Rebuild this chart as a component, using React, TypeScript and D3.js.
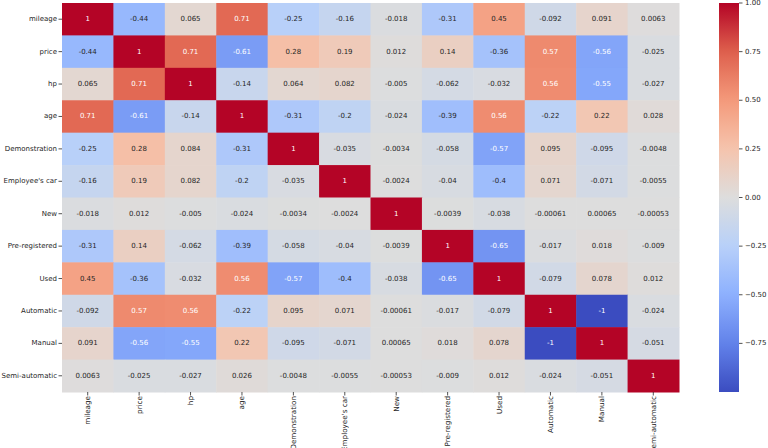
import React from 'react';
import * as d3 from 'd3';

// feature names (rows and columns)
const features = [
  'mileage', 'price', 'hp', 'age', 'Demonstration', "Employee's car",
  'New', 'Pre-registered', 'Used', 'Automatic', 'Manual', 'Semi-automatic',
];

// correlation rows
const mileage = [1, -0.44, 0.065, 0.71, -0.25, -0.16, -0.018, -0.31, 0.45, -0.092, 0.091, 0.0063];
const price = [-0.44, 1, 0.71, -0.61, 0.28, 0.19, 0.012, 0.14, -0.36, 0.57, -0.56, -0.025];
const hp = [0.065, 0.71, 1, -0.14, 0.064, 0.082, -0.005, -0.062, -0.032, 0.56, -0.55, -0.027];
const age = [0.71, -0.61, -0.14, 1, -0.31, -0.2, -0.024, -0.39, 0.56, -0.22, 0.22, 0.028];
const demonstration = [-0.25, 0.28, 0.084, -0.31, 1, -0.035, -0.0034, -0.058, -0.57, 0.095, -0.095, -0.0048];
const employeesCar = [-0.16, 0.19, 0.082, -0.2, -0.035, 1, -0.0024, -0.04, -0.4, 0.071, -0.071, -0.0055];
const newCar = [-0.018, 0.012, -0.005, -0.024, -0.0034, -0.0024, 1, -0.0039, -0.038, -0.00061, 0.00065, -0.00053];
const preRegistered = [-0.31, 0.14, -0.062, -0.39, -0.058, -0.04, -0.0039, 1, -0.65, -0.017, 0.018, -0.009];
const used = [0.45, -0.36, -0.032, 0.56, -0.57, -0.4, -0.038, -0.65, 1, -0.079, 0.078, 0.012];
const automatic = [-0.092, 0.57, 0.56, -0.22, 0.095, 0.071, -0.00061, -0.017, -0.079, 1, -1, -0.024];
const manual = [0.091, -0.56, -0.55, 0.22, -0.095, -0.071, 0.00065, 0.018, 0.078, -1, 1, -0.051];
const semiAutomatic = [0.0063, -0.025, -0.027, 0.026, -0.0048, -0.0055, -0.00053, -0.009, 0.012, -0.024, -0.051, 1];

const matrix = [
  mileage, price, hp, age, demonstration, employeesCar,
  newCar, preRegistered, used, automatic, manual, semiAutomatic,
];

const colorbarTicks = [-0.75, -0.5, -0.25, 0, 0.25, 0.5, 0.75, 1];

// coolwarm colormap control points
const coolwarmStops = [
  '#3b4cc0', '#6282ea', '#8db0fe', '#b8d0f9', '#dddddd',
  '#f5c4ad', '#f49a7b', '#de604d', '#b40426',
];

const W = 768;
const H = 448;
const left = 62;
const right = 679;
const top = 3;
const bottom = 392;
const cbX = 719;
const cbW = 20;
const ink = '#262626';

const color = d3
  .scaleLinear<string>()
  .domain(d3.range(coolwarmStops.length).map((i) => -1 + (2 * i) / (coolwarmStops.length - 1)))
  .range(coolwarmStops)
  .interpolate(d3.interpolateRgb)
  .clamp(true);

const fmt = (v: number) => d3.format('.2~g')(v).replace('\u2212', '-');

// seaborn picks white text on dark cells
const textColor = (c: string) => {
  const rgb = d3.rgb(c);
  const lin = (u: number) => {
    const s = u / 255;
    return s <= 0.03928 ? s / 12.92 : Math.pow((s + 0.055) / 1.055, 2.4);
  };
  const lum = 0.2126 * lin(rgb.r) + 0.7152 * lin(rgb.g) + 0.0722 * lin(rgb.b);
  return lum > 0.408 ? ink : '#ffffff';
};

const App: React.FC = () => {
  const x = d3.scaleBand().domain(features).range([left, right]);
  const y = d3.scaleBand().domain(features).range([top, bottom]);
  const cbY = d3.scaleLinear().domain([-1, 1]).range([bottom, top]);
  const gradStops = d3.range(0, 1.0001, 0.02);

  return (
    <svg
      width={W}
      height={H}
      style={{ position: 'absolute', left: 0, top: 0, background: '#fff' }}
      fontFamily="'DejaVu Sans', sans-serif"
    >
      <defs>
        <linearGradient id="cb" x1="0" y1="1" x2="0" y2="0">
          {gradStops.map((t) => (
            <stop key={t} offset={t} stopColor={color(-1 + 2 * t)} />
          ))}
        </linearGradient>
      </defs>

      {/* cells */}
      {matrix.map((row, i) =>
        row.map((v, j) => {
          const c = color(v);
          return (
            <g key={`${i}-${j}`}>
              <rect
                x={x(features[j])}
                y={y(features[i])}
                width={x.bandwidth() + 0.5}
                height={y.bandwidth() + 0.5}
                fill={c}
              />
              <text
                x={(x(features[j]) || 0) + x.bandwidth() / 2}
                y={(y(features[i]) || 0) + y.bandwidth() / 2}
                textAnchor="middle"
                dominantBaseline="central"
                fontSize={7}
                fill={textColor(c)}
              >
                {fmt(v)}
              </text>
            </g>
          );
        })
      )}

      {/* y axis */}
      {features.map((f) => {
        const cy = (y(f) || 0) + y.bandwidth() / 2;
        return (
          <g key={`y-${f}`}>
            <line x1={left - 3.5} x2={left} y1={cy} y2={cy} stroke={ink} strokeWidth={0.8} />
            <text x={left - 5} y={cy} textAnchor="end" dominantBaseline="central" fontSize={7} fill={ink}>
              {f}
            </text>
          </g>
        );
      })}

      {/* x axis */}
      {features.map((f) => {
        const cx = (x(f) || 0) + x.bandwidth() / 2;
        return (
          <g key={`x-${f}`}>
            <line x1={cx} x2={cx} y1={bottom} y2={bottom + 3.5} stroke={ink} strokeWidth={0.8} />
            <text
              transform={`translate(${cx},${bottom + 4}) rotate(-90)`}
              textAnchor="end"
              dominantBaseline="central"
              fontSize={7.2}
              fill={ink}
            >
              {f}
            </text>
          </g>
        );
      })}

      {/* colorbar */}
      <rect x={cbX} y={top} width={cbW} height={bottom - top} fill="url(#cb)" />
      {colorbarTicks.map((t) => (
        <g key={`cb-${t}`}>
          <line x1={cbX + cbW} x2={cbX + cbW + 3.5} y1={cbY(t)} y2={cbY(t)} stroke={ink} strokeWidth={0.8} />
          <text x={cbX + cbW + 6} y={cbY(t)} dominantBaseline="central" fontSize={7} fill={ink}>
            {d3.format('.2f')(t)}
          </text>
        </g>
      ))}
    </svg>
  );
};

export default App;
